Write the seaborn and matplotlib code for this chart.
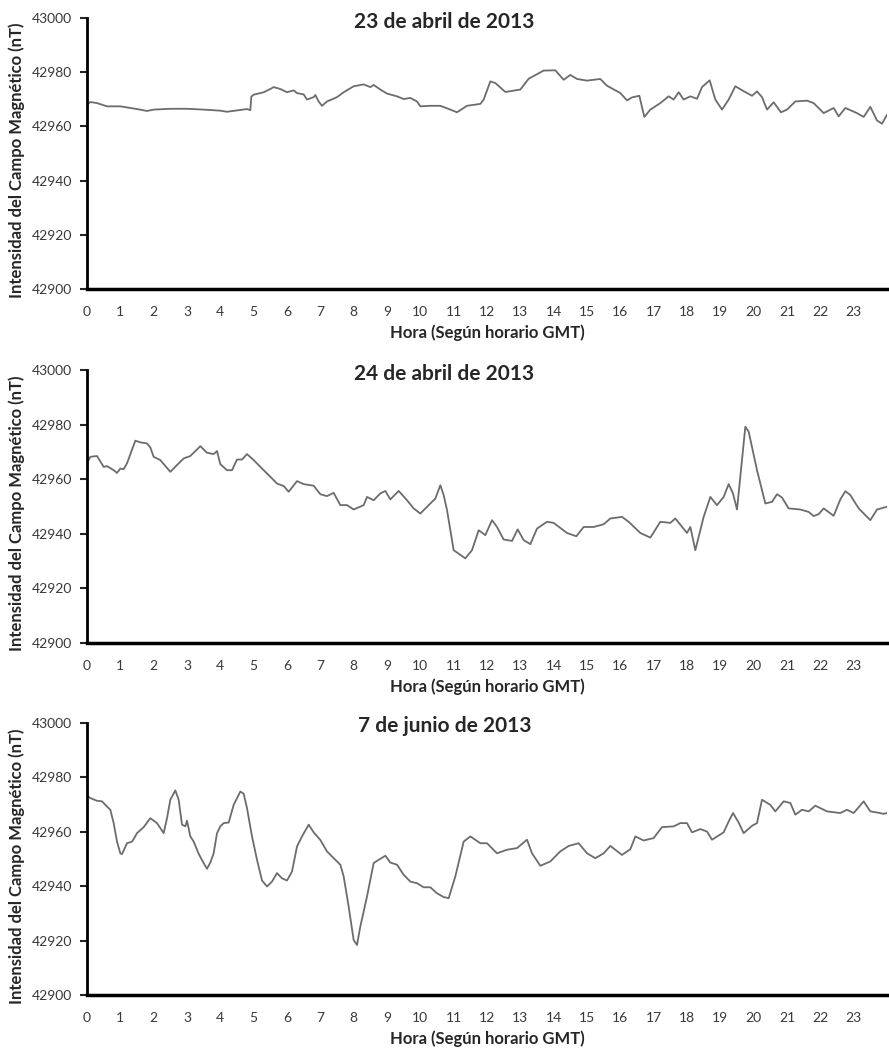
import numpy as np
import matplotlib
matplotlib.use("Agg")
import matplotlib.pyplot as plt
import seaborn as sns

# --- datos (hora GMT, intensidad en nT) ---
horas_23abr = [0.0, 0.1, 0.3, 0.6, 1.0, 1.2, 1.5, 1.8, 2.0, 2.5, 3.0, 3.5, 4.0, 4.2, 4.5, 4.8, 4.9,
               4.93, 5.0, 5.3, 5.5, 5.6, 5.8, 6.0, 6.2, 6.3, 6.5, 6.6, 6.8, 6.85, 6.95, 7.05, 7.2,
               7.5, 7.7, 8.0, 8.3, 8.5, 8.6, 8.8, 9.0, 9.3, 9.5, 9.7, 9.9, 10.0, 10.3, 10.6, 10.9,
               11.1, 11.4, 11.8, 11.9, 12.1, 12.25, 12.55, 13.0, 13.25, 13.7, 14.05, 14.3, 14.5,
               14.7, 15.0, 15.4, 15.6, 16.0, 16.2, 16.35, 16.57, 16.72, 16.9, 17.2, 17.45, 17.6,
               17.75, 17.9, 18.1, 18.3, 18.45, 18.68, 18.85, 19.05, 19.25, 19.45, 19.7, 19.95,
               20.1, 20.25, 20.4, 20.6, 20.82, 21.0, 21.25, 21.6, 21.8, 22.1, 22.4, 22.55, 22.75,
               23.1, 23.3, 23.5, 23.7, 23.85, 24.0]
nt_23abr = [42968.0, 42969.0, 42968.6, 42967.4, 42967.4, 42967.0, 42966.4, 42965.7, 42966.2,
            42966.5, 42966.5, 42966.2, 42965.8, 42965.4, 42965.9, 42966.4, 42966.0, 42971.0,
            42971.7, 42972.6, 42973.8, 42974.5, 42973.8, 42972.6, 42973.3, 42972.3, 42971.8,
            42969.9, 42970.8, 42971.6, 42969.2, 42967.6, 42969.2, 42970.8, 42972.6, 42974.8,
            42975.5, 42974.5, 42975.3, 42973.6, 42972.1, 42971.1, 42970.1, 42970.5, 42969.2,
            42967.4, 42967.6, 42967.6, 42966.2, 42965.2, 42967.6, 42968.3, 42969.9, 42976.6,
            42976.0, 42972.7, 42973.6, 42977.6, 42980.6, 42980.7, 42977.2, 42979.0, 42977.5,
            42976.9, 42977.5, 42975.0, 42972.3, 42969.6, 42970.7, 42971.3, 42963.5, 42966.2,
            42968.6, 42971.1, 42969.9, 42972.6, 42969.9, 42971.1, 42970.2, 42974.5, 42977.0,
            42969.9, 42966.2, 42969.9, 42974.8, 42973.0, 42971.3, 42972.9, 42970.8, 42966.2,
            42968.9, 42965.2, 42966.2, 42969.2, 42969.5, 42968.6, 42964.9, 42966.8, 42963.7,
            42966.8, 42964.9, 42963.5, 42967.2, 42962.2, 42961.0, 42964.3]

horas_24abr = [0.0, 0.1, 0.3, 0.5, 0.6, 0.8, 0.9, 1.0, 1.1, 1.2, 1.45, 1.6, 1.8, 1.9, 2.0, 2.2,
               2.5, 2.7, 2.9, 3.1, 3.4, 3.6, 3.8, 3.9, 4.0, 4.2, 4.35, 4.5, 4.65, 4.8, 5.0, 5.3,
               5.5, 5.7, 5.9, 6.05, 6.3, 6.5, 6.8, 7.0, 7.2, 7.4, 7.6, 7.8, 8.0, 8.3, 8.4, 8.6,
               8.8, 8.95, 9.1, 9.35, 9.6, 9.8, 10.0, 10.2, 10.45, 10.6, 10.7, 10.8, 11.0, 11.35,
               11.55, 11.75, 11.95, 12.15, 12.3, 12.5, 12.75, 12.92, 13.1, 13.3, 13.5, 13.8, 14.0,
               14.4, 14.68, 14.9, 15.2, 15.5, 15.7, 16.05, 16.25, 16.6, 16.9, 17.2, 17.5, 17.65,
               18.0, 18.1, 18.25, 18.5, 18.7, 18.9, 19.1, 19.25, 19.38, 19.5, 19.75, 19.85, 20.1,
               20.35, 20.55, 20.7, 20.85, 21.05, 21.4, 21.65, 21.8, 21.95, 22.1, 22.4, 22.6,
               22.75, 22.9, 23.15, 23.5, 23.7, 24.0]
nt_24abr = [42965.8, 42968.2, 42968.5, 42964.5, 42964.8, 42963.3, 42962.3, 42963.9, 42963.7,
            42965.8, 42974.1, 42973.5, 42973.1, 42971.6, 42968.2, 42967.0, 42962.7, 42965.2,
            42967.6, 42968.5, 42972.1, 42969.7, 42969.2, 42970.3, 42965.5, 42963.3, 42963.3,
            42967.2, 42967.2, 42969.2, 42967.0, 42963.3, 42960.9, 42958.4, 42957.5, 42955.4,
            42959.3, 42958.2, 42957.6, 42954.5, 42953.8, 42955.0, 42950.5, 42950.5, 42948.9,
            42950.5, 42953.5, 42952.3, 42954.8, 42955.7, 42952.6, 42955.7, 42952.3, 42949.3,
            42947.4, 42949.9, 42952.9, 42957.8, 42954.2, 42948.7, 42934.0, 42931.0, 42934.0,
            42941.3, 42939.5, 42945.0, 42942.5, 42937.9, 42937.4, 42941.6, 42937.7, 42936.2,
            42941.9, 42944.4, 42944.0, 42940.3, 42939.1, 42942.5, 42942.5, 42943.5, 42945.6,
            42946.2, 42944.4, 42940.3, 42938.6, 42944.4, 42944.0, 42945.6, 42940.3, 42942.5,
            42934.0, 42946.2, 42953.5, 42950.5, 42953.5, 42958.2, 42954.8, 42948.9, 42979.2,
            42977.4, 42963.3, 42951.1, 42951.7, 42954.5, 42953.3, 42949.3, 42948.9, 42948.0,
            42946.5, 42947.2, 42949.3, 42946.6, 42952.6, 42955.6, 42954.2, 42949.3, 42945.0,
            42948.9, 42949.9]

horas_7jun = [0.0, 0.1, 0.3, 0.45, 0.6, 0.7, 0.8, 0.9, 1.0, 1.05, 1.2, 1.35, 1.4, 1.5, 1.7, 1.9,
              2.1, 2.3, 2.4, 2.5, 2.65, 2.75, 2.85, 2.95, 3.0, 3.1, 3.2, 3.35, 3.5, 3.6, 3.7, 3.8,
              3.9, 4.0, 4.1, 4.25, 4.4, 4.6, 4.7, 4.8, 4.95, 5.1, 5.25, 5.4, 5.55, 5.7, 5.85, 6.0,
              6.15, 6.3, 6.45, 6.65, 6.8, 7.0, 7.2, 7.4, 7.6, 7.7, 7.85, 8.0, 8.1, 8.2, 8.4, 8.6,
              8.75, 8.95, 9.1, 9.3, 9.5, 9.7, 9.9, 10.1, 10.3, 10.5, 10.7, 10.85, 11.05, 11.3,
              11.5, 11.8, 12.0, 12.3, 12.6, 12.9, 13.2, 13.35, 13.6, 13.9, 14.2, 14.45, 14.75,
              15.0, 15.25, 15.5, 15.7, 16.05, 16.3, 16.45, 16.7, 17.0, 17.25, 17.6, 17.8, 18.0,
              18.15, 18.4, 18.6, 18.75, 19.1, 19.25, 19.38, 19.55, 19.7, 19.95, 20.1, 20.25,
              20.5, 20.65, 20.9, 21.1, 21.25, 21.45, 21.65, 21.85, 22.2, 22.6, 22.8, 23.0, 23.3,
              23.5, 23.7, 23.9, 24.0]
nt_7jun = [42973.3, 42972.4, 42971.4, 42971.2, 42969.3, 42968.1, 42963.2, 42956.4, 42952.1,
           42951.8, 42955.8, 42956.4, 42957.3, 42959.5, 42961.7, 42965.0, 42963.2, 42959.5,
           42965.0, 42971.8, 42975.2, 42971.8, 42962.6, 42962.0, 42964.1, 42958.3, 42956.4,
           42951.9, 42948.5, 42946.4, 42948.7, 42952.1, 42959.5, 42962.0, 42963.2, 42963.4,
           42969.9, 42974.8, 42974.0, 42968.7, 42958.3, 42949.7, 42942.1, 42939.9, 42941.7,
           42944.8, 42942.9, 42942.1, 42945.4, 42954.6, 42958.3, 42962.6, 42959.8, 42957.0,
           42952.8, 42950.3, 42947.9, 42943.6, 42932.5, 42920.2, 42918.4, 42925.2, 42936.2,
           42948.5, 42949.7, 42951.2, 42948.7, 42947.9, 42944.2, 42941.7, 42941.1, 42939.6,
           42939.6, 42937.4, 42936.0, 42935.6, 42943.6, 42956.4, 42958.3, 42955.8, 42955.8,
           42952.1, 42953.4, 42954.0, 42957.1, 42952.1, 42947.5, 42949.1, 42952.8, 42954.8,
           42955.8, 42952.1, 42950.3, 42952.1, 42954.8, 42951.5, 42953.6, 42958.3, 42956.8,
           42957.7, 42961.7, 42962.0, 42963.2, 42963.2, 42959.8, 42961.0, 42960.1, 42957.1,
           42959.8, 42963.8, 42966.9, 42963.4, 42959.5, 42962.2, 42963.2, 42971.8, 42969.9,
           42967.5, 42971.2, 42970.6, 42966.3, 42968.1, 42967.5, 42969.6, 42967.5, 42966.9,
           42968.1, 42966.9, 42971.2, 42967.5, 42967.1, 42966.6, 42966.9]

titulos = ["23 de abril de 2013", "24 de abril de 2013", "7 de junio de 2013"]
series = [(horas_23abr, nt_23abr), (horas_24abr, nt_24abr), (horas_7jun, nt_7jun)]

sns.set_style("white")
plt.rcParams["font.family"] = ["Lato", "DejaVu Sans"]

fig = plt.figure(figsize=(8.89, 10.51), dpi=100)

# posiciones de los tres paneles (en pixeles del original)
tops = [18, 370, 723]
bottoms = [289, 643, 995]
title_y = [22, 374, 726]
W, H = 889, 1051

for i, (hh, vv) in enumerate(series):
    ax = fig.add_axes([87 / W, 1 - bottoms[i] / H, 800 / W, (bottoms[i] - tops[i]) / H])
    sns.lineplot(x=hh, y=vv, ax=ax, color="#6c6c6c", linewidth=1.3, estimator=None)
    ax.set_xlim(0, 24)
    ax.set_ylim(42900, 43000)
    ax.set_xticks(range(24))
    ax.set_yticks(np.arange(42900, 43001, 20))
    ax.tick_params(axis="x", length=0, pad=12, labelsize=10, labelcolor="#383838")
    ax.tick_params(axis="y", length=5, width=1.5, pad=6, labelsize=10,
                   labelcolor="#383838", left=True, direction="out")
    for s in ["top", "right"]:
        ax.spines[s].set_visible(False)
    ax.spines["left"].set_linewidth(2.0)
    ax.spines["bottom"].set_linewidth(2.5)
    ax.spines["left"].set_color("black")
    ax.spines["bottom"].set_color("black")
    ax.set_xlabel("Hora (Según horario GMT)", fontsize=12, fontweight="bold")
    ax.set_ylabel("Intensidad del Campo Magnético (nT)", fontsize=12, fontweight="bold")
    ax.xaxis.set_label_coords(0.5, -0.13)
    ax.yaxis.set_label_coords(-0.077, 0.475)
    fig.text(0.5, 1 - title_y[i] / H, titulos[i], ha="center", va="center",
             fontsize=15, fontweight="bold")

fig.savefig("out.png", dpi=100)
